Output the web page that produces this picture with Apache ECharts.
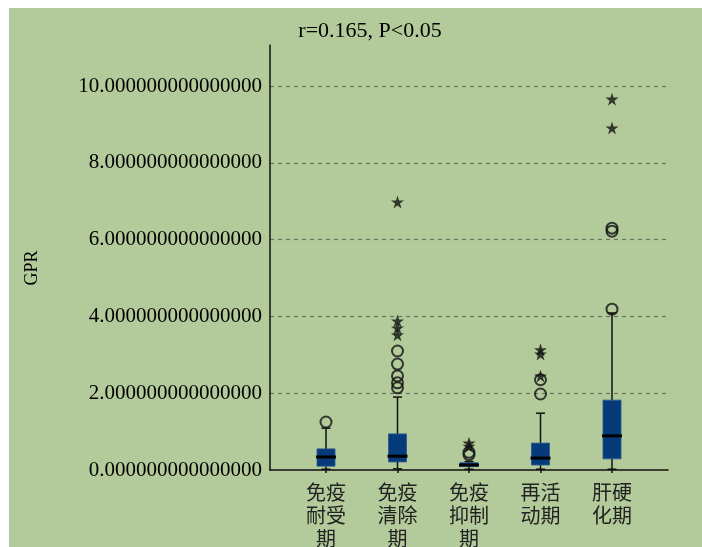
<!DOCTYPE html>
<html>
<head>
<meta charset="utf-8">
<script src="https://cdn.jsdelivr.net/npm/echarts@6/dist/echarts.min.js"></script>
<style>
  html, body { margin: 0; padding: 0; background: #ffffff; }
  #bg { position: absolute; left: 9px; top: 8px; right: 0; bottom: 0; background: #b3cb9b; }
  #chart { position: absolute; left: 0; top: 0; width: 702px; height: 547px; }
</style>
</head>
<body>
<div id="bg"></div>
<div id="chart"></div>
<script>
// Disease phases on the horizontal axis
const categories = ['免疫\n耐受\n期', '免疫\n清除\n期', '免疫\n抑制\n期', '再活\n动期', '肝硬\n化期'];

// Box statistics of GPR per phase
const lowerWhisker = [0.02, 0.03, 0.02, 0.02, 0.02];
const quartile1    = [0.10, 0.21, 0.09, 0.13, 0.29];
const medians      = [0.34, 0.36, 0.13, 0.31, 0.89];
const quartile3    = [0.55, 0.94, 0.19, 0.70, 1.82];
const upperWhisker = [1.09, 1.90, 0.22, 1.48, 4.09];

// Outliers: [phase index, GPR]
const mildOutliers = [
  [0, 1.25],
  [1, 2.14], [1, 2.27], [1, 2.45], [1, 2.76], [1, 3.10],
  [2, 0.40], [2, 0.46],
  [3, 1.98], [3, 2.35],
  [4, 4.19], [4, 6.22], [4, 6.30]
];
const extremeOutliers = [
  [1, 3.52], [1, 3.70], [1, 3.88], [1, 6.98],
  [2, 0.62], [2, 0.70],
  [3, 2.45], [3, 3.02], [3, 3.13],
  [4, 8.91], [4, 9.66]
];

// Y tick settings
const yMax = 11.07;
const yInterval = 2;

const boxData = categories.map((c, i) =>
  [i, lowerWhisker[i], quartile1[i], medians[i], quartile3[i], upperWhisker[i]]);

// Five-pointed star marker for extreme values
function starPath(R, r) {
  let d = '';
  for (let k = 0; k < 10; k++) {
    const rad = k % 2 === 0 ? R : r;
    const a = -Math.PI / 2 + k * Math.PI / 5;
    d += (k === 0 ? 'M' : 'L') + (rad * Math.cos(a)).toFixed(3) + ' ' + (rad * Math.sin(a)).toFixed(3) + ' ';
  }
  return 'path://' + d + 'Z';
}

const serif = 'Liberation Serif';

function renderBox(params, api) {
  const idx = api.value(0);
  const pLow = api.coord([idx, api.value(1)]);
  const pQ1 = api.coord([idx, api.value(2)]);
  const pMed = api.coord([idx, api.value(3)]);
  const pQ3 = api.coord([idx, api.value(4)]);
  const pHigh = api.coord([idx, api.value(5)]);
  const x = pQ1[0];
  const bw = 18;
  const cap = 9;
  const line = { stroke: '#111', lineWidth: 1.5 };
  return {
    type: 'group',
    children: [
      { type: 'line', shape: { x1: x, y1: pQ3[1], x2: x, y2: pHigh[1] }, style: line },
      { type: 'line', shape: { x1: x - cap / 2, y1: pHigh[1], x2: x + cap / 2, y2: pHigh[1] }, style: line },
      { type: 'line', shape: { x1: x, y1: pQ1[1], x2: x, y2: pLow[1] }, style: line },
      { type: 'line', shape: { x1: x - cap / 2, y1: pLow[1], x2: x + cap / 2, y2: pLow[1] }, style: line },
      { type: 'rect', shape: { x: x - bw / 2, y: pQ3[1], width: bw, height: pQ1[1] - pQ3[1] },
        style: { fill: '#063a7a', stroke: '#2a5590', lineWidth: 0.8 } },
      { type: 'line', shape: { x1: x - bw / 2 - 1, y1: pMed[1], x2: x + bw / 2 + 1, y2: pMed[1] },
        style: { stroke: '#000', lineWidth: 3 } }
    ]
  };
}

const chart = echarts.init(document.getElementById('chart'), null, { renderer: 'canvas' });
chart.setOption({
  animation: false,
  backgroundColor: 'transparent',
  title: {
    text: 'r=0.165, P<0.05',
    left: 365, top: 15, textAlign: 'center',
    textStyle: { fontFamily: serif, fontSize: 22, fontWeight: 'normal', color: '#000' }
  },
  graphic: [{
    type: 'text', x: 32, y: 268, rotation: Math.PI / 2,
    style: { text: 'GPR', font: '18px "Liberation Serif"', fill: '#000', align: 'center', verticalAlign: 'middle' }
  }],
  grid: [
    { left: 270, right: 34, top: 45, bottom: 77, outerBoundsMode: 'none' },
    { left: 290.25, right: 54.25, top: 45, bottom: 77, outerBoundsMode: 'none' }
  ],
  xAxis: [
    { gridIndex: 0, type: 'value', min: 0, max: 1,
      axisLine: { show: true, lineStyle: { color: '#111', width: 1.5 } },
      axisTick: { show: false }, axisLabel: { show: false }, splitLine: { show: false } },
    { gridIndex: 1, type: 'category', data: categories,
      axisLine: { show: false },
      axisTick: { show: true, alignWithLabel: true, length: 3, lineStyle: { color: '#111', width: 1.5 } },
      axisLabel: { interval: 0, margin: 11, fontFamily: 'Noto Sans CJK SC', fontSize: 20, lineHeight: 23, color: '#222' },
      splitLine: { show: false } }
  ],
  yAxis: [
    { gridIndex: 0, type: 'value', min: 0, max: yMax, interval: yInterval,
      axisLine: { show: true, lineStyle: { color: '#111', width: 1.5 } },
      axisTick: { show: false },
      axisLabel: { margin: 8, fontFamily: serif, fontSize: 21, color: '#000',
        showMaxLabel: false, formatter: v => v.toFixed(15) },
      splitLine: { show: true, showMinLine: false, showMaxLine: false,
        lineStyle: { color: '#66725e', type: [4, 4], width: 1.2 } } },
    { gridIndex: 1, type: 'value', min: 0, max: yMax, show: false, splitLine: { show: false } }
  ],
  series: [
    { type: 'custom', xAxisIndex: 1, yAxisIndex: 1, renderItem: renderBox,
      encode: { x: 0, y: [1, 2, 3, 4, 5] }, data: boxData, z: 3 },
    { type: 'scatter', xAxisIndex: 1, yAxisIndex: 1, data: mildOutliers,
      symbol: 'circle', symbolSize: 11,
      itemStyle: { color: 'rgba(0,0,0,0)', borderColor: '#111', borderWidth: 2 }, z: 4 },
    { type: 'scatter', xAxisIndex: 1, yAxisIndex: 1, data: extremeOutliers,
      symbol: starPath(1, 0.38), symbolSize: 13,
      itemStyle: { color: '#111' }, z: 5 }
  ]
});
</script>
</body>
</html>
